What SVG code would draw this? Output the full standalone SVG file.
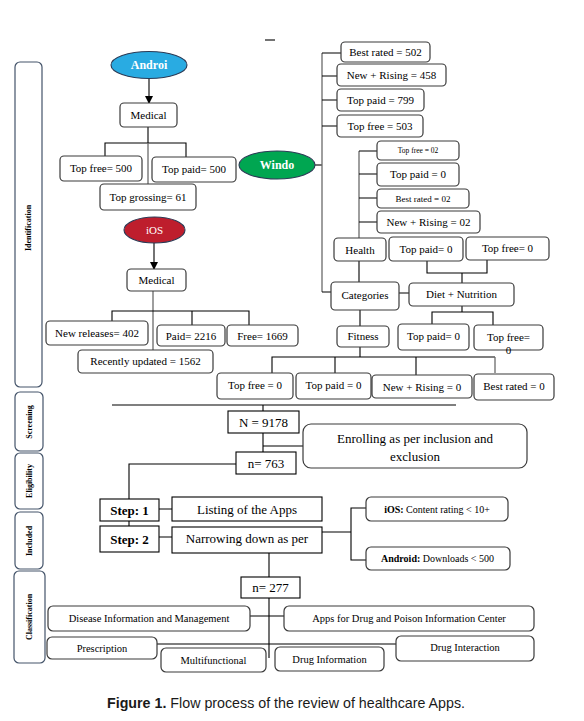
<svg xmlns="http://www.w3.org/2000/svg" width="584" height="721" viewBox="0 0 584 721">
<defs>
<style>
text{font-family:"Liberation Serif","Times New Roman",serif;fill:#000;text-anchor:middle}
.b{fill:#fff;stroke:#3a3a3a;stroke-width:1.2}
.s{fill:#fff;stroke:#000;stroke-width:1.1}
.t{font-size:11px}
.m{font-size:13px}
.c{font-size:10.5px}
.side{fill:#fff;stroke:#44546a;stroke-width:1.2}
.sl{font-size:8px;font-weight:bold}
.ew{fill:#fff;font-weight:bold;font-size:12px}
.ln{fill:none;stroke:#000;stroke-width:1.1}
.gl{fill:none;stroke:#6a6a6a;stroke-width:1.3}
</style>
<marker id="arr" markerWidth="8" markerHeight="8" refX="7" refY="4" orient="auto" markerUnits="userSpaceOnUse">
<path d="M0,0 L8,4 L0,8 Z" fill="#000"/>
</marker>
</defs>
<rect width="584" height="721" fill="#fff"/>

<!-- side phase labels -->
<g id="phase-identification"><rect class="side" x="15" y="62" width="27" height="325" rx="5"/><text class="sl" transform="translate(31,228) rotate(-90)">Identification</text></g>
<g id="phase-screening"><rect class="side" x="15" y="392" width="28" height="59" rx="5"/><text class="sl" transform="translate(32,422) rotate(-90)">Screening</text></g>
<g id="phase-eligibility"><rect class="side" x="15" y="453" width="28" height="56" rx="5"/><text class="sl" transform="translate(32,481) rotate(-90)">Eligibility</text></g>
<g id="phase-included"><rect class="side" x="15" y="512" width="28" height="57" rx="5"/><text class="sl" transform="translate(32,541) rotate(-90)">Included</text></g>
<g id="phase-classification"><rect class="side" x="14" y="571" width="31" height="92" rx="5"/><text class="sl" transform="translate(32,617) rotate(-90)">Classification</text></g>

<g id="connectors">
<path class="ln" d="M265 40 H275"/>
<!-- android -->
<path class="ln" d="M149 78 V103" marker-end="url(#arr)"/>
<path class="ln" d="M148 127 V143 M105 156 V143 H186 V157"/>
<path class="gl" d="M148 143 V184"/>
<!-- ios -->
<path class="ln" d="M154 243 V269" marker-end="url(#arr)"/>
<path class="gl" d="M153 291 V350"/>
<path class="ln" d="M112 321 V311 H249 V325 M192 311 V325"/>
<!-- windows -->
<path class="ln" d="M315 165 H322"/>
<path class="gl" d="M322 53 V292"/>
<path class="ln" d="M322 292 H331 M322 53 H341 M322 76 H337 M322 100 H337 M322 126 H337"/>
<path class="gl" d="M359 151 V238"/>
<path class="ln" d="M359 151 H377 M359 174 H377 M359 198 H377 M359 222 H377"/>
<path class="ln" d="M359 261 V282 M427 261 V273 H487 V260 M462 273 V283 M399 293 H409 M360 310 V326 M462 306 V312 M432 325 V312 H493 V325"/>
<path class="ln" d="M360 347 V357 M272 373 V357 H495 M335 357 V373 M416 357 V375"/>
<path class="gl" d="M495 357 V373"/>
<!-- lower flow -->
<path class="ln" d="M112 405 H456 M263 405 V411 M263 433 V452 M263 446 H303 M236 464 H129 V499 M159 509 H172 M129 521 V526 M159 537 H172 M322 532 H351 M366 508 H351 V560 H366 M269 553 V577 M269 598 V658 M250 616 H284 M157 644 H396"/>
</g>

<!-- Android branch -->
<g id="android"><ellipse cx="149" cy="65" rx="38" ry="13.5" fill="#29abe2" stroke="#2b3a55" stroke-width="1.1"/><text class="ew" x="149" y="69">Androi</text></g>
<g id="android-medical"><rect class="b" x="120" y="103" width="57" height="24" rx="4"/><text class="t" x="148.5" y="119">Medical</text></g>
<g id="a-top-free"><rect class="b" x="60" y="156" width="82" height="25" rx="4"/><text class="t" x="101" y="172">Top free= 500</text></g>
<g id="a-top-paid"><rect class="b" x="152" y="157" width="84" height="25" rx="4"/><text class="t" x="194" y="173">Top paid= 500</text></g>
<g id="a-top-grossing"><rect class="b" x="100" y="184" width="96" height="26" rx="4"/><text class="t" x="148" y="201">Top grossing= 61</text></g>

<!-- iOS branch -->
<g id="ios"><ellipse cx="154.5" cy="230" rx="30.5" ry="13" fill="#be1e2d" stroke="#2b3a55" stroke-width="1.1"/><text class="t" x="154.5" y="234" style="fill:#fff">iOS</text></g>
<g id="ios-medical"><rect class="b" x="127" y="269" width="59" height="22" rx="4"/><text class="t" x="156.5" y="284">Medical</text></g>
<g id="i-new-releases"><rect class="b" x="46" y="321" width="102" height="24" rx="4"/><text class="t" x="97" y="337">New releases= 402</text></g>
<g id="i-paid"><rect class="b" x="157" y="325" width="68" height="21" rx="4"/><text class="t" x="191" y="339.5">Paid= 2216</text></g>
<g id="i-free"><rect class="b" x="227" y="325" width="71" height="21" rx="4"/><text class="t" x="262.5" y="340">Free= 1669</text></g>
<g id="i-recently"><rect class="b" x="78" y="350" width="135" height="23" rx="4"/><text class="t" x="145.5" y="365">Recently updated = 1562</text></g>

<!-- Windows branch -->
<g id="windows"><ellipse cx="277" cy="165" rx="38" ry="14" fill="#00a651" stroke="#2b3a55" stroke-width="1.1"/><text class="ew" x="277" y="169">Windo</text></g>
<g id="w-best-rated"><rect class="b" x="341" y="42" width="89" height="20" rx="4"/><text class="t" x="385.5" y="56">Best rated = 502</text></g>
<g id="w-new-rising"><rect class="b" x="337" y="64" width="109" height="22" rx="4"/><text class="t" x="391.5" y="79">New + Rising = 458</text></g>
<g id="w-top-paid"><rect class="b" x="337" y="89" width="87" height="22" rx="4"/><text class="t" x="380.5" y="104">Top paid = 799</text></g>
<g id="w-top-free"><rect class="b" x="337" y="115" width="86" height="22" rx="4"/><text class="t" x="380" y="130">Top free = 503</text></g>
<g id="h-top-free"><rect class="b" x="377" y="141" width="82" height="19" rx="4"/><text x="418" y="153" style="font-size:7.5px">Top free = 02</text></g>
<g id="h-top-paid"><rect class="b" x="377" y="163" width="82" height="23" rx="4"/><text class="t" x="418" y="178">Top paid = 0</text></g>
<g id="h-best-rated"><rect class="b" x="377" y="189" width="92" height="19" rx="4"/><text x="423" y="201.5" style="font-size:9px">Best rated = 02</text></g>
<g id="h-new-rising"><rect class="b" x="377" y="211" width="103" height="22" rx="4"/><text class="t" x="428.5" y="226">New + Rising = 02</text></g>
<g id="health"><rect class="b" x="334" y="238" width="52" height="23" rx="4"/><text class="t" x="360" y="253.5">Health</text></g>
<g id="d-top-paid-1"><rect class="b" x="389" y="237" width="74" height="24" rx="4"/><text class="t" x="426" y="252.5">Top paid= 0</text></g>
<g id="d-top-free-1"><rect class="b" x="466" y="237" width="83" height="23" rx="4"/><text class="t" x="507.5" y="251.5">Top free= 0</text></g>
<g id="categories"><rect class="b" x="331" y="282" width="68" height="28" rx="4"/><text class="t" x="365" y="299">Categories</text></g>
<g id="diet-nutrition"><rect class="b" x="409" y="283" width="105" height="23" rx="4"/><text class="t" x="461.5" y="298">Diet + Nutrition</text></g>
<g id="d-top-paid-2"><rect class="b" x="398" y="324" width="71" height="26" rx="4"/><text class="t" x="433.5" y="340">Top paid= 0</text></g>
<g id="d-top-free-2"><rect class="b" x="474" y="325" width="69" height="25" rx="4"/><text class="t" x="508.5" y="341">Top free=</text><text class="t" x="508.5" y="354">0</text></g>
<g id="fitness"><rect class="b" x="337" y="326" width="52" height="21" rx="4"/><text class="t" x="363" y="340">Fitness</text></g>
<g id="f-top-free"><rect class="b" x="217" y="373" width="76" height="26" rx="4"/><text class="t" x="255" y="389">Top free = 0</text></g>
<g id="f-top-paid"><rect class="b" x="296" y="373" width="75" height="26" rx="4"/><text class="t" x="333.5" y="389">Top paid = 0</text></g>
<g id="f-new-rising"><rect class="b" x="372" y="375" width="100" height="23" rx="4"/><text class="t" x="422" y="390.5">New + Rising = 0</text></g>
<g id="f-best-rated"><rect class="b" x="474" y="374" width="80" height="26" rx="4"/><text class="t" x="514" y="390">Best rated = 0</text></g>

<!-- lower flow -->
<g id="n-9178"><rect class="s" x="228" y="411" width="71" height="22"/><text class="m" x="263.5" y="427">N = 9178</text></g>
<g id="enrolling"><rect class="b" x="303" y="424" width="224" height="44" rx="8"/><text class="m" x="415" y="442.5">Enrolling as per inclusion and</text><text class="m" x="415" y="460.5">exclusion</text></g>
<g id="n-763"><rect class="s" x="236" y="452" width="60" height="22"/><text class="m" x="266" y="467.5">n= 763</text></g>
<g id="step-1"><rect class="s" x="100" y="499" width="59" height="22"/><text class="m" x="129.5" y="514.5" font-weight="bold">Step: 1</text></g>
<g id="listing"><rect class="s" x="172" y="497" width="150" height="24"/><text class="m" x="247" y="513.5">Listing of the Apps</text></g>
<g id="step-2"><rect class="s" x="100" y="526" width="59" height="26"/><text class="m" x="129.5" y="543.5" font-weight="bold">Step: 2</text></g>
<g id="narrowing"><rect class="s" x="172" y="527" width="150" height="26"/><text class="m" x="247" y="543">Narrowing down as per</text></g>
<g id="ios-criteria"><rect class="b" x="366" y="497" width="142" height="24" rx="5"/><text x="437" y="512.5" style="font-size:10px"><tspan font-weight="bold">iOS:</tspan> Content rating &lt; 10+</text></g>
<g id="android-criteria"><rect class="b" x="366" y="547" width="144" height="23" rx="5"/><text x="437.5" y="562" style="font-size:10px"><tspan font-weight="bold">Android:</tspan> Downloads &lt; 500</text></g>
<g id="n-277"><rect class="s" x="241" y="577" width="59" height="21"/><text class="m" x="270.5" y="592">n= 277</text></g>
<g id="disease-info"><rect class="b" x="48" y="606" width="202" height="25" rx="5"/><text class="c" x="149" y="622">Disease Information and Management</text></g>
<g id="apps-drug-poison"><rect class="b" x="284" y="606" width="250" height="25" rx="5"/><text class="c" x="409" y="622">Apps for Drug and Poison Information Center</text></g>
<g id="prescription"><rect class="b" x="47" y="637" width="110" height="22" rx="5"/><text class="c" x="102" y="651.5">Prescription</text></g>
<g id="drug-interaction"><rect class="b" x="396" y="636" width="138" height="25" rx="5"/><text class="c" x="465" y="651">Drug Interaction</text></g>
<g id="multifunctional"><rect class="b" x="161" y="648" width="105" height="24" rx="5"/><text class="c" x="213.5" y="663.5">Multifunctional</text></g>
<g id="drug-information"><rect class="b" x="275" y="647" width="109" height="24" rx="5"/><text class="c" x="329.5" y="663">Drug Information</text></g>

<text x="107" y="708" style="font-family:'Liberation Sans',Arial,sans-serif;font-size:15px;text-anchor:start;fill:#1a1a1a" textLength="358" lengthAdjust="spacingAndGlyphs"><tspan font-weight="bold">Figure 1.</tspan> Flow process of the review of healthcare Apps.</text>
</svg>
